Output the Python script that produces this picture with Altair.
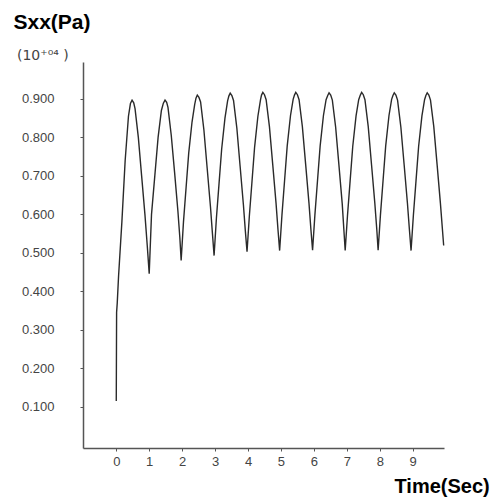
import altair as alt
import pandas as pd

times = [0.00, 0.01, 0.03, 0.07, 0.17, 0.27, 0.37, 0.43, 0.48, 0.53, 0.57, 0.67, 0.77, 0.87, 0.94,
         1.00, 1.07, 1.17, 1.27, 1.37, 1.43, 1.48, 1.53, 1.57, 1.67, 1.77, 1.87, 1.93,
         1.97, 2.04, 2.12, 2.20, 2.30, 2.38, 2.42, 2.46, 2.51, 2.56, 2.66, 2.76, 2.86, 2.92,
         2.97, 3.04, 3.12, 3.20, 3.30, 3.38, 3.42, 3.46, 3.51, 3.56, 3.66, 3.76, 3.86, 3.92,
         3.97, 4.04, 4.12, 4.20, 4.30, 4.38, 4.41, 4.45, 4.50, 4.55, 4.65, 4.75, 4.85, 4.91,
         4.96, 5.03, 5.11, 5.19, 5.29, 5.37, 5.41, 5.45, 5.50, 5.55, 5.65, 5.75, 5.85, 5.91,
         5.96, 6.03, 6.11, 6.19, 6.29, 6.37, 6.42, 6.46, 6.51, 6.56, 6.66, 6.76, 6.86, 6.91,
         6.95, 7.02, 7.10, 7.18, 7.28, 7.36, 7.41, 7.45, 7.50, 7.55, 7.65, 7.75, 7.85, 7.91,
         7.95, 8.02, 8.10, 8.18, 8.28, 8.36, 8.40, 8.44, 8.49, 8.54, 8.64, 8.74, 8.84, 8.90,
         8.95, 9.02, 9.10, 9.18, 9.28, 9.36, 9.40, 9.44, 9.49, 9.54, 9.64, 9.74, 9.84, 9.94]

sxx = [0.115, 0.345, 0.370, 0.440, 0.580, 0.740, 0.855, 0.888, 0.897, 0.890, 0.875, 0.800, 0.700, 0.600, 0.520,
       0.446, 0.600, 0.700, 0.800, 0.870, 0.889, 0.897, 0.891, 0.878, 0.805, 0.710, 0.610, 0.540,
       0.480, 0.580, 0.670, 0.760, 0.840, 0.885, 0.902, 0.910, 0.904, 0.892, 0.820, 0.720, 0.620, 0.550,
       0.493, 0.590, 0.680, 0.770, 0.850, 0.895, 0.908, 0.915, 0.909, 0.896, 0.825, 0.725, 0.625, 0.556,
       0.503, 0.595, 0.685, 0.775, 0.855, 0.898, 0.910, 0.917, 0.911, 0.898, 0.828, 0.730, 0.630, 0.560,
       0.506, 0.598, 0.688, 0.778, 0.857, 0.899, 0.910, 0.917, 0.911, 0.898, 0.828, 0.730, 0.630, 0.560,
       0.507, 0.598, 0.688, 0.778, 0.857, 0.898, 0.909, 0.916, 0.910, 0.897, 0.827, 0.728, 0.628, 0.560,
       0.506, 0.597, 0.687, 0.777, 0.856, 0.898, 0.910, 0.917, 0.911, 0.898, 0.828, 0.729, 0.629, 0.560,
       0.507, 0.598, 0.688, 0.778, 0.857, 0.899, 0.909, 0.916, 0.910, 0.897, 0.827, 0.729, 0.629, 0.560,
       0.506, 0.597, 0.687, 0.777, 0.856, 0.898, 0.909, 0.916, 0.910, 0.897, 0.828, 0.730, 0.630, 0.519]

x_ticks = [0, 1, 2, 3, 4, 5, 6, 7, 8, 9]
y_ticks = [0.1, 0.2, 0.3, 0.4, 0.5, 0.6, 0.7, 0.8, 0.9]

df = pd.DataFrame({"t": times, "s": sxx, "i": list(range(len(times)))})

FONT = "Liberation Sans"

chart = alt.Chart(df).mark_line(color="#2a2a2a", strokeWidth=1.4).encode(
    x=alt.X("t:Q",
            scale=alt.Scale(domain=[-1.01, 9.95], nice=False, zero=False),
            axis=alt.Axis(values=x_ticks, format="d", grid=False, tickSize=3,
                          labelPadding=4, labelFontSize=13, labelColor="#444444",
                          labelFont=FONT, domainColor="#555555", domainWidth=1.5,
                          tickColor="#555555",
                          title="Time(Sec)", titleFont=FONT, titleFontSize=20,
                          titleFontWeight="bold", titleColor="#000000",
                          titleAlign="left", titleBaseline="alphabetic",
                          titleAnchor="start", titleX=311, titleY=44)),
    y=alt.Y("s:Q",
            scale=alt.Scale(domain=[-0.007, 0.996], nice=False, zero=False),
            axis=alt.Axis(values=y_ticks, format=".3f", grid=False, tickSize=3,
                          labelPadding=26, labelFontSize=13, labelColor="#444444",
                          labelFont=FONT, domainColor="#555555", domainWidth=1.5,
                          tickColor="#555555",
                          title="Sxx(Pa)", titleFont=FONT, titleFontSize=21,
                          titleFontWeight="bold", titleColor="#000000",
                          titleAngle=0, titleAlign="left", titleBaseline="alphabetic",
                          titleAnchor="start", titleX=-70, titleY=-34)),
    order="i:Q",
).properties(
    width=361,
    height=386,
    autosize=alt.AutoSizeParams(type="none"),
    padding={"left": 75, "top": 54, "right": 48, "bottom": 50},
    title=alt.TitleParams(text="(10⁺⁰⁴ )", font="DejaVu Sans", fontSize=14, fontWeight="normal",
                          color="#444444", anchor="start", frame="group",
                          orient="top", dx=-66, dy=54, offset=2),
).configure_view(stroke=None)

chart.save("out.html", embed_options={"renderer": "svg", "actions": False})
